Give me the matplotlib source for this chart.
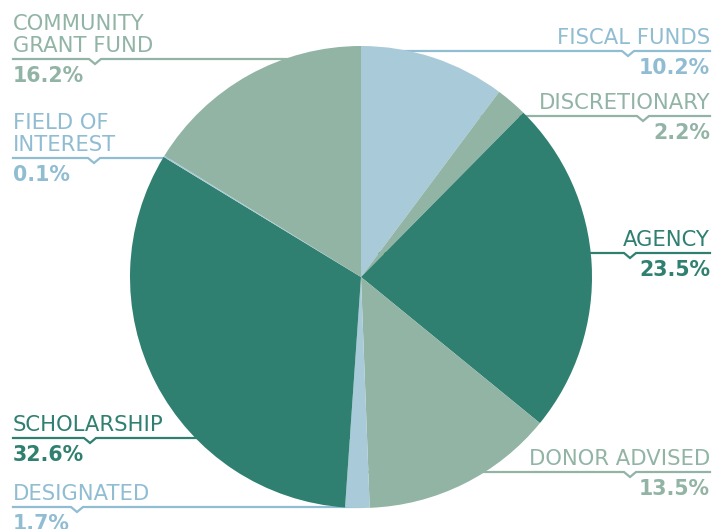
import numpy as np
import matplotlib.pyplot as plt

# slices, clockwise from 12 o'clock
labels = ['FISCAL FUNDS', 'DISCRETIONARY', 'AGENCY', 'DONOR ADVISED',
          'DESIGNATED', 'SCHOLARSHIP', 'FIELD OF\nINTEREST', 'COMMUNITY\nGRANT FUND']
shares = [10.2, 2.2, 23.5, 13.5, 1.7, 32.6, 0.1, 16.2]

light_blue = '#a9cad9'
sage = '#92b4a5'
green = '#2f8070'
slice_colors = [light_blue, sage, green, sage, light_blue, green, light_blue, sage]
text_colors = ['#90bdd2', '#92b4a5', '#2f8070', '#92b4a5',
               '#90bdd2', '#2f8070', '#90bdd2', '#92b4a5']

# label layout (pixel rows of leader lines, side, notch position)
line_y = [51, 116, 253, 472, 507, 438, 158, 59]
side = ['r', 'r', 'r', 'r', 'l', 'l', 'l', 'l']
notch_x = [628, 643, 630, 630, 77, 90, 94, 95]

W, H = 715, 529
cx, cy, r = 361, 277, 231

plt.rcParams['font.family'] = ['DejaVu Sans']

fig = plt.figure(figsize=(W / 100, H / 100), dpi=100)
ax = fig.add_axes([0, 0, 1, 1])

ax.pie(shares, colors=slice_colors, startangle=90, counterclock=False,
       center=(cx, H - cy), radius=r, frame=True,
       wedgeprops=dict(linewidth=0))
ax.set_xlim(0, W)
ax.set_ylim(0, H)
ax.axis('off')

for lab, val, col, ly, sd, nx in zip(labels, shares, text_colors, line_y, side, notch_x):
    y = H - ly
    if sd == 'r':
        x_out, ha = 710, 'right'
        xs = [x_out, nx + 6, nx, nx - 6, cx]
    else:
        x_out, ha = 13, 'left'
        xs = [x_out, nx - 6, nx, nx + 6, cx]
    # leader line with a small V notch, runs under the pie
    ys = [y, y, y - 5, y, y]
    ax.plot(xs, ys, color=col, lw=1.6, zorder=0, solid_joinstyle='miter')
    ax.text(x_out, y + 7, lab, ha=ha, va='baseline', color=col,
            fontsize=15.2, fontweight='normal', linespacing=1.15)
    ax.text(x_out, y - 23, f'{val:.1f}%', ha=ha, va='baseline', color=col,
            fontsize=14.8, fontweight='bold')

fig.savefig('out.png', dpi=100)
